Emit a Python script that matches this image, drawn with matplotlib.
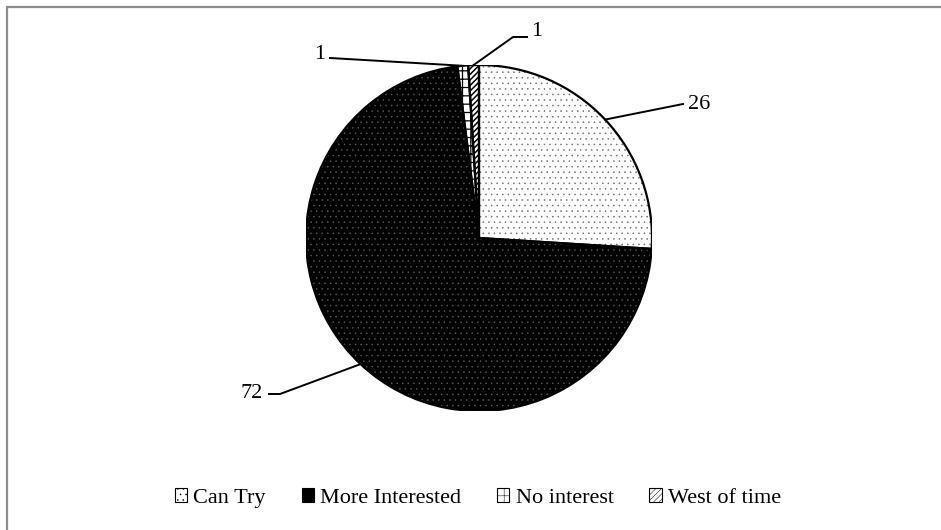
import numpy as np
import matplotlib.pyplot as plt
import matplotlib.patches as mpatches

plt.rcParams['font.family'] = ['Liberation Serif', 'DejaVu Serif']
plt.rcParams['hatch.linewidth'] = 0.35

categories = ['Can Try', 'More Interested', 'No interest', 'West of time']
values = [26, 72, 1, 1]
fills = ['white', 'black', 'white', 'white']
hatches = ['...', '...', '++', '//////']
hatch_colors = ['#6a6a6a', '#606060', 'black', 'black']
hatch_widths = [0.35, 0.3, 0.9, 1.1]

# label placement in pixels: text position, alignment, leader elbow points
label_pos = [(688, 109), (263, 398), (325, 59), (531, 36)]
label_ha = ['left', 'right', 'right', 'left']
leader_pts = [[(683, 104)], [(280, 394), (269, 394)], [(330, 58)], [(513, 37), (527, 37)]]

W, H = 941, 530
cx, cy, r = 479, 238, 173

fig = plt.figure(figsize=(W / 100, H / 100), dpi=100)
ax = fig.add_axes([(cx - r) / W, (H - cy - r) / H, 2 * r / W, 2 * r / H])

def to_data(p):
    return (p[0] - cx) / r, (cy - p[1]) / r

wedges, _ = ax.pie(values, startangle=90, counterclock=False, radius=1)
for w, fc, h, hc, hw in zip(wedges, fills, hatches, hatch_colors, hatch_widths):
    w.set_facecolor(fc)
    w.set_hatch(h)
    w.set_edgecolor(hc)
    w.set_linewidth(0)
    if hasattr(w, 'set_hatch_linewidth'):
        w.set_hatch_linewidth(hw)
    # outline on top so the hatch colour can differ from the edge
    ax.add_patch(mpatches.Wedge(w.center, w.r, w.theta1, w.theta2, fill=False,
                                edgecolor='black', linewidth=1.6, zorder=3))

ax.set_xlim(-1, 1)
ax.set_ylim(-1, 1)
ax.axis('off')

for w, v, tp, ha, pts in zip(wedges, values, label_pos, label_ha, leader_pts):
    mid = np.deg2rad((w.theta1 + w.theta2) / 2)
    xs = [np.cos(mid)] + [to_data(p)[0] for p in pts]
    ys = [np.sin(mid)] + [to_data(p)[1] for p in pts]
    ax.plot(xs, ys, color='black', lw=1.4, clip_on=False, zorder=4)
    tx, ty = to_data(tp)
    ax.text(tx, ty, str(v), ha=ha, va='baseline', fontsize=16, clip_on=False)

handles = []
for fc, h, hw in zip(fills, hatches, hatch_widths):
    p = mpatches.Patch(facecolor=fc, edgecolor='black', hatch=h, linewidth=0.8)
    if hasattr(p, 'set_hatch_linewidth'):
        p.set_hatch_linewidth(hw)
    handles.append(p)
fig.legend(handles, categories, loc='center', bbox_to_anchor=(478 / W, 1 - 498 / H),
           ncol=4, frameon=False, fontsize=16, handlelength=0.55, handleheight=0.55,
           handletextpad=0.3, columnspacing=1.6)

fig.add_artist(mpatches.Rectangle((7 / W, -0.1), 1.2, 1 - 7 / H + 0.1,
                                  transform=fig.transFigure, fill=False,
                                  edgecolor='#8c8c8c', linewidth=1.6))

fig.savefig('out.png', dpi=100)
